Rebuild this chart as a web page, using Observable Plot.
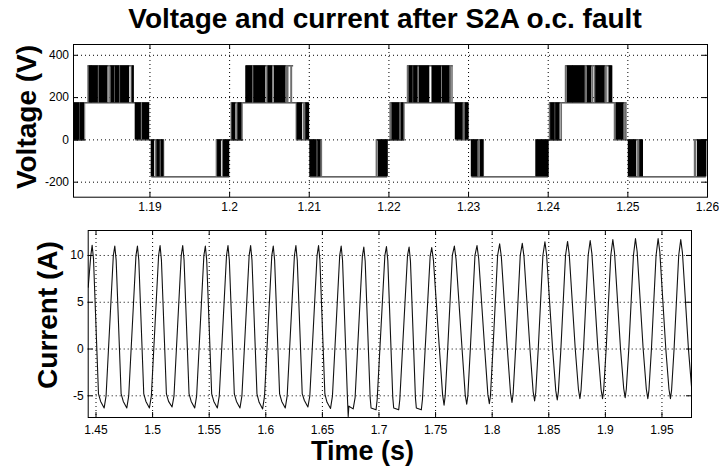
<!DOCTYPE html>
<html><head><meta charset="utf-8">
<script src="https://cdn.jsdelivr.net/npm/d3@7"></script>
<script src="https://cdn.jsdelivr.net/npm/@observablehq/plot@0.6"></script>
<style>
html,body{margin:0;padding:0;background:#fff;}
#chart{position:relative;width:719px;height:469px;overflow:hidden;background:#fff;}
#chart svg{position:absolute;left:0;}
</style></head><body><div id="chart"></div>
<script>
// ---------------- DATA ----------------
const titleText = "Voltage and current after S2A o.c. fault";
const vLabel = "Voltage (V)";
const iLabel = "Current (A)";
const tLabel = "Time (s)";

// Voltage panel axes
const vXDomain = [1.1804, 1.26];
const vYDomain = [-271, 451];
const vXTicks = [1.19, 1.2, 1.21, 1.22, 1.23, 1.24, 1.25, 1.26];
const vXTickLabels = ["1.19", "1.2", "1.21", "1.22", "1.23", "1.24", "1.25", "1.26"];
const vYTicks = [400, 200, 0, -200];
const vYTickLabels = ["400", "200", "0", "-200"];

// Current panel axes
const iXDomain = [1.4431, 1.9761];
const iYDomain = [-7.32, 12.67];
const iXTicks = [1.45, 1.5, 1.55, 1.6, 1.65, 1.7, 1.75, 1.8, 1.85, 1.9, 1.95];
const iXTickLabels = ["1.45", "1.5", "1.55", "1.6", "1.65", "1.7", "1.75", "1.8", "1.85", "1.9", "1.95"];
const iYTicks = [10, 5, 0, -5];
const iYTickLabels = ["10", "5", "0", "-5"];

// Voltage: fundamental periods and switching bands (ms after period start)
const vPeriodStart = [1.18, 1.20, 1.22, 1.24];
// band order: A (0..175), B (175..350), C (175..0), E (0..-175), D (-175..0)
const vBandLevels = [[0, 175], [175, 350], [0, 175], [-175, 0], [-175, 0]];
const vBandSpans = [
  [[0.2, 1.9], [2.23, 8.01], [8.22, 9.98], [10.23, 11.82], [18.35, 20.03]],
  [[0.21, 1.76], [2.10, 8.04], [8.38, 9.97], [10.14, 11.64], [18.43, 19.85]],
  [[0.16, 2.01], [2.34, 8.08], [8.41, 10.0], [10.42, 11.97], [18.46, 20.05]],
  [[0.17, 1.76], [2.18, 8.04], [8.33, 9.88], [10.13, 11.89], [18.38, 19.85]]
];
// dense switching blocks: [band, from ms, to ms, dense(1)/single edge(0)]
const vBlocksP0 = [
  [0,0.40,1.10,1],[0,1.18,1.27,0],[0,1.31,1.73,1],[0,1.86,1.90,0],
  [1,2.23,2.36,0],[1,2.44,2.65,1],[1,2.69,3.45,1],[1,3.53,3.61,0],[1,3.70,4.66,1],[1,4.87,4.99,0],[1,5.16,5.54,1],[1,5.71,6.13,1],[1,6.21,6.29,0],[1,6.38,7.38,1],[1,7.67,7.80,0],[1,7.84,7.97,1],
  [2,8.22,8.85,1],[2,8.93,9.06,0],[2,9.14,9.89,1],
  [3,10.23,10.52,1],[3,10.73,10.86,0],[3,10.94,11.23,1],[3,11.44,11.69,1],[3,11.74,11.82,0],
  [4,18.35,18.52,0],[4,18.56,18.90,1],[4,19.11,19.23,0],[4,19.31,19.94,1]
];
const vBlocksP1 = [
  [0,0.21,0.38,0],[0,0.38,0.72,1],[0,0.93,1.09,0],[0,1.13,1.47,1],[0,1.55,1.68,0],
  [1,2.10,2.81,1],[1,2.85,3.02,0],[1,3.10,4.48,1],[1,4.69,4.86,0],[1,4.90,5.32,1],[1,5.45,5.55,0],[1,5.70,7.00,1],[1,7.12,7.42,0],[1,7.71,7.88,0],
  [2,8.38,8.55,0],[2,8.55,9.09,1],[2,9.30,9.55,0],[2,9.63,9.97,1],
  [3,10.14,10.89,1],[3,10.93,11.02,0],[3,11.14,11.39,1],[3,11.48,11.64,0],
  [4,18.43,18.55,0],[4,18.72,19.85,1]
];
const vBlocksP2 = [
  [0,0.16,0.37,0],[0,0.46,1.29,1],[0,1.38,1.55,0],[0,1.63,1.80,1],[0,1.88,2.01,0],
  [1,2.34,2.55,0],[1,2.63,2.97,1],[1,3.05,3.14,0],[1,3.18,3.60,1],[1,3.85,5.06,1],[1,5.48,6.53,1],[1,6.74,7.58,1],[1,7.66,7.91,0],[1,7.99,8.04,0],
  [2,8.41,9.25,1],[2,9.33,9.58,0],[2,9.67,10.0,1],
  [3,10.42,11.13,1],[3,11.26,11.43,0],[3,11.55,11.85,1],[3,11.90,11.97,0],
  [4,18.46,18.52,0],[4,18.55,20.05,1]
];
const vBlocksP3 = [
  [0,0.17,0.34,0],[0,0.38,0.80,1],[0,0.88,0.95,0],[0,1.01,1.42,1],[0,1.63,1.76,0],
  [1,2.18,2.34,0],[1,2.47,3.10,1],[1,3.18,4.56,1],[1,4.61,4.86,0],[1,4.98,5.40,1],[1,5.55,5.65,0],[1,5.80,5.90,0],[1,6.03,7.08,1],[1,7.20,7.30,0],[1,7.38,7.45,0],[1,7.70,8.04,1],
  [2,8.33,8.54,0],[2,8.63,9.46,1],[2,9.63,9.88,0],
  [3,10.13,11.05,1],[3,11.26,11.47,0],[3,11.56,11.89,1],
  [4,18.38,18.59,0],[4,18.80,19.85,1]
];
const vBlocks = [vBlocksP0, vBlocksP1, vBlocksP2, vBlocksP3];

// Current samples [time s, current A]
const currentPts = [
  [1.4431,6.6],[1.4454,10.0],
  [1.4466,11.1],[1.4478,9.6],[1.4522,-4.8],[1.4541,-5.6],[1.4572,-6.3],[1.4589,-5.0],[1.4653,10.0],
  [1.4666,11.0],[1.4678,9.5],[1.4722,-4.8],[1.4741,-5.6],[1.4772,-6.3],[1.4789,-5.0],[1.4853,10.0],
  [1.4866,11.0],[1.4878,9.5],[1.4922,-4.8],[1.4941,-5.6],[1.4972,-6.3],[1.4989,-5.0],[1.5053,10.0],
  [1.5066,11.05],[1.5078,9.5],[1.5122,-4.8],[1.5141,-5.6],[1.5172,-6.2],[1.5189,-5.0],[1.5253,10.0],
  [1.5266,11.05],[1.5278,9.5],[1.5322,-4.8],[1.5341,-5.6],[1.5372,-6.3],[1.5389,-5.0],[1.5453,10.0],
  [1.5466,11.0],[1.5478,9.5],[1.5522,-4.8],[1.5541,-5.6],[1.5572,-6.3],[1.5589,-5.0],[1.5653,10.0],
  [1.5666,11.05],[1.5678,9.5],[1.5722,-4.8],[1.5741,-5.6],[1.5772,-6.3],[1.5789,-5.0],[1.5853,10.0],
  [1.5866,11.05],[1.5878,9.5],[1.5922,-4.8],[1.5941,-5.7],[1.5972,-6.4],[1.5989,-5.0],[1.6053,10.0],
  [1.6066,11.0],[1.6078,9.5],[1.6122,-4.8],[1.6141,-5.6],[1.6172,-6.3],[1.6189,-5.0],[1.6253,10.0],
  [1.6266,11.05],[1.6278,9.5],[1.6322,-4.8],[1.6341,-5.5],[1.6372,-6.2],[1.6389,-5.0],[1.6453,10.0],
  [1.6466,11.05],[1.6478,9.5],[1.6522,-4.8],[1.6541,-5.7],[1.6572,-6.35],[1.6589,-5.0],[1.6653,10.0],
  [1.6666,11.0],[1.6678,9.5],[1.6720,-4.8],[1.6728,-7.2],[1.6734,-6.1],[1.6745,-6.2],[1.6772,-6.4],[1.6789,-5.2],[1.6853,9.9],
  [1.6866,10.9],[1.6878,9.4],[1.6922,-5.2],[1.6930,-6.3],[1.6974,-6.5],[1.6984,-5.4],[1.7052,10.0],
  [1.7066,10.95],[1.7078,9.45],[1.7122,-5.2],[1.7130,-6.3],[1.7174,-6.5],[1.7184,-5.4],[1.7252,10.0],
  [1.7266,10.9],[1.7278,9.4],[1.7322,-5.2],[1.7330,-6.3],[1.7374,-6.5],[1.7384,-5.4],[1.7452,9.9],
  [1.7466,10.85],[1.7481,9.5],[1.7534,0.0],[1.7562,-4.9],[1.7575,-6.0],[1.7585,-5.0],[1.7607,0.0],[1.7648,10.0],
  [1.7666,11.0],[1.7681,9.6],[1.7734,0.0],[1.7762,-4.9],[1.7775,-5.9],[1.7785,-5.0],[1.7807,0.0],[1.7848,10.0],
  [1.7866,11.05],[1.7881,9.65],[1.7934,0.0],[1.7962,-4.85],[1.7975,-5.85],[1.7985,-4.95],[1.8007,0.0],[1.8048,10.0],
  [1.8066,11.25],[1.8081,9.85],[1.8134,0.0],[1.8162,-4.7],[1.8175,-5.7],[1.8185,-4.8],[1.8207,0.0],[1.8248,10.0],
  [1.8266,11.3],[1.8281,9.9],[1.8334,0.0],[1.8362,-4.55],[1.8375,-5.55],[1.8385,-4.65],[1.8407,0.0],[1.8448,10.0],
  [1.8466,11.45],[1.8481,10.05],[1.8534,0.0],[1.8562,-4.45],[1.8575,-5.45],[1.8585,-4.55],[1.8607,0.0],[1.8648,10.0],
  [1.8666,11.5],[1.8681,10.1],[1.8734,0.0],[1.8762,-4.3],[1.8775,-5.3],[1.8785,-4.4],[1.8807,0.0],[1.8848,10.0],
  [1.8866,11.6],[1.8881,10.2],[1.8934,0.0],[1.8962,-4.3],[1.8975,-5.3],[1.8985,-4.4],[1.9007,0.0],[1.9048,10.0],
  [1.9066,11.7],[1.9081,10.3],[1.9134,0.0],[1.9162,-4.2],[1.9175,-5.2],[1.9185,-4.3],[1.9207,0.0],[1.9248,10.0],
  [1.9266,11.8],[1.9281,10.4],[1.9334,0.0],[1.9362,-4.3],[1.9375,-5.3],[1.9385,-4.4],[1.9407,0.0],[1.9448,10.0],
  [1.9466,11.8],[1.9481,10.4],[1.9534,0.0],[1.9562,-4.3],[1.9575,-5.3],[1.9585,-4.4],[1.9607,0.0],[1.9648,10.0],
  [1.9666,11.7],[1.9681,10.3],[1.9734,0.0],[1.9761,-4.0]
];

// ---------------- BUILD ----------------
const FONT = "'Liberation Sans', Arial, Helvetica, sans-serif";
const chart = document.getElementById("chart");

// voltage rectangles and level segments
const rects = [];
const hSegs = [];
vPeriodStart.forEach((t0, p) => {
  const T = ms => t0 + ms / 1000;
  vBlocks[p].forEach(([b, a, z, dense]) => {
    rects.push({x1: T(a), x2: T(z), y1: vBandLevels[b][0], y2: vBandLevels[b][1], dense});
  });
  const s = vBandSpans[p];
  const nextA1 = p + 1 < vPeriodStart.length ? vPeriodStart[p + 1] + vBandSpans[p + 1][0][1] / 1000 : vXDomain[1];
  if (p === 0) hSegs.push({y: 0, x1: vXDomain[0], x2: T(s[0][1])});
  hSegs.push({y: 0, x1: T(s[0][0]), x2: T(s[0][1])});
  hSegs.push({y: 175, x1: T(s[0][0]), x2: T(s[2][1])});
  hSegs.push({y: 350, x1: T(s[1][0]), x2: T(s[1][1])});
  hSegs.push({y: 0, x1: T(s[2][0]), x2: T(s[3][1])});
  hSegs.push({y: -175, x1: T(s[3][0]), x2: T(s[4][1])});
  hSegs.push({y: 0, x1: T(s[4][0]), x2: nextA1});
});
const denseRects = rects.filter(d => d.dense);
const edgeRects = rects.filter(d => !d.dense);

function frameTicks(xt, yt, fw, fh) {
  const st = {stroke: "black", strokeWidth: 1};
  return [
    Plot.tickY(yt, {y: d => d, insetRight: fw - 5, ...st}),
    Plot.tickY(yt, {y: d => d, insetLeft: fw - 5, ...st}),
    Plot.tickX(xt, {x: d => d, insetTop: fh - 5, ...st}),
    Plot.tickX(xt, {x: d => d, insetBottom: fh - 5, ...st})
  ];
}
const gridStyle = {stroke: "black", strokeOpacity: 1, strokeWidth: 1, strokeDasharray: "1,3"};

// top panel
const vTop = 44, vBottom = 196.7, vLeft = 73, vRight = 707, vH = 220;
const vPlot = Plot.plot({
  width: 719, height: vH,
  marginLeft: vLeft, marginRight: 719 - vRight, marginTop: vTop, marginBottom: vH - vBottom,
  style: {fontFamily: FONT, fontSize: "12px", color: "#000", background: "transparent"},
  x: {domain: vXDomain},
  y: {domain: vYDomain},
  marks: [
    Plot.gridX(vXTicks, gridStyle),
    Plot.gridY(vYTicks, gridStyle),
    Plot.ruleY(hSegs, {y: "y", x1: "x1", x2: "x2", stroke: "black", strokeWidth: 1, clip: true}),
    Plot.rect(edgeRects, {x1: "x1", x2: "x2", y1: "y1", y2: "y2", fill: "#6e6e6e", insetLeft: -0.3, insetRight: -0.3, clip: true}),
    Plot.rect(denseRects, {x1: "x1", x2: "x2", y1: "y1", y2: "y2", fill: "#000", insetLeft: -0.6, insetRight: -0.6, clip: true}),
    ...frameTicks(vXTicks, vYTicks, vRight - vLeft, vBottom - vTop),
    Plot.frame({stroke: "black", strokeWidth: 1}),
    Plot.axisX(vXTicks, {tickSize: 0, tickPadding: 5, tickFormat: (d, i) => vXTickLabels[i], label: null, fontSize: 12}),
    Plot.axisY(vYTicks, {tickSize: 0, tickPadding: 4.5, tickFormat: (d, i) => vYTickLabels[i], label: null, fontSize: 12})
  ]
});
vPlot.style.top = "0px";
chart.appendChild(vPlot);

// bottom panel
const iOff = 220;
const iTop = 230 - iOff, iBottom = 417 - iOff, iLeft = 87.7, iRight = 691, iH = 469 - iOff;
const iPlot = Plot.plot({
  width: 719, height: iH,
  marginLeft: iLeft, marginRight: 719 - iRight, marginTop: iTop, marginBottom: iH - iBottom,
  style: {fontFamily: FONT, fontSize: "12px", color: "#000", background: "transparent"},
  x: {domain: iXDomain},
  y: {domain: iYDomain},
  marks: [
    Plot.gridX(iXTicks, gridStyle),
    Plot.gridY(iYTicks, gridStyle),
    Plot.line(currentPts, {x: d => d[0], y: d => d[1], stroke: "#111", strokeWidth: 1.1, clip: true}),
    ...frameTicks(iXTicks, iYTicks, iRight - iLeft, iBottom - iTop),
    Plot.frame({stroke: "black", strokeWidth: 1}),
    Plot.axisX(iXTicks, {tickSize: 0, tickPadding: 7.5, tickFormat: (d, i) => iXTickLabels[i], label: null, fontSize: 12}),
    Plot.axisY(iYTicks, {tickSize: 0, tickPadding: 4.5, tickFormat: (d, i) => iYTickLabels[i], label: null, fontSize: 12})
  ]
});
iPlot.style.top = iOff + "px";
chart.appendChild(iPlot);

// overlay texts
const ov = d3.select(chart).append("svg")
  .attr("width", 719).attr("height", 469)
  .style("top", "0px").style("pointer-events", "none")
  .attr("font-family", FONT).attr("font-weight", "bold").attr("fill", "#000");
ov.append("text").attr("x", 385).attr("y", 27.5).attr("text-anchor", "middle").attr("font-size", 28).text(titleText);
ov.append("text").attr("transform", "translate(36,117) rotate(-90)").attr("text-anchor", "middle").attr("font-size", 28).text(vLabel);
ov.append("text").attr("transform", "translate(57,315) rotate(-90)").attr("text-anchor", "middle").attr("font-size", 28).text(iLabel);
ov.append("text").attr("x", 362.5).attr("y", 460).attr("text-anchor", "middle").attr("font-size", 27).text(tLabel);
</script></body></html>
